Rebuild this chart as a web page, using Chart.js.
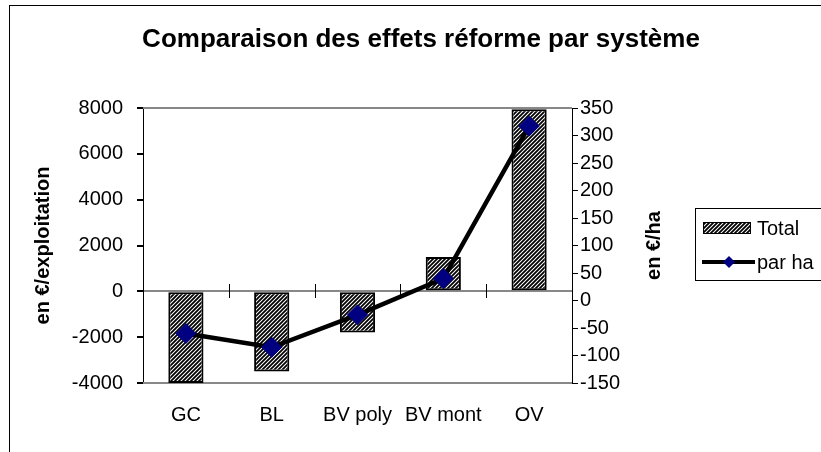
<!DOCTYPE html>
<html>
<head>
<meta charset="utf-8">
<script src="https://cdn.jsdelivr.net/npm/chart.js@4/dist/chart.umd.min.js"></script>
<style>
  html, body { margin: 0; padding: 0; background: #fff; }
  #chart { display: block; }
</style>
</head>
<body>
<canvas id="chart" width="821" height="452"></canvas>
<script>
// =======================
// Data
// =======================
const systems = ["GC", "BL", "BV poly", "BV mont", "OV"];
const totalValues = [-4000, -3500, -1800, 1500, 7950];
const perHaValues = [-60, -85, -26, 40, 317];
const leftTicks = [-4000, 8000, 2000];   // min, max, step
const rightTicks = [-150, 350, 50];      // min, max, step

const chartTitle = "Comparaison des effets réforme par système";
const leftTitle = "en €/exploitation";
const rightTitle = "en €/ha";
const seriesNames = ["Total", "par ha"];

const fontFamily = "'Liberation Sans', Arial, sans-serif";
Chart.defaults.font.family = fontFamily;
Chart.defaults.font.size = 20;
Chart.defaults.color = '#000';

// hatched fill for the bars
function makeHatch() {
    const c = document.createElement('canvas');
    c.width = 4;
    c.height = 4;
    const g = c.getContext('2d');
    g.fillStyle = '#fff';
    g.fillRect(0, 0, 4, 4);
    g.strokeStyle = '#000';
    g.lineWidth = 1.8;
    g.beginPath();
    g.moveTo(-1, 5); g.lineTo(5, -1);
    g.moveTo(-1, 1); g.lineTo(1, -1);
    g.moveTo(3, 5); g.lineTo(5, 3);
    g.stroke();
    return g.createPattern(c, 'repeat');
}
const hatch = makeHatch();

// =======================
// Extra drawing: frame, plot lines, category ticks, right title, legend
// =======================
const decorations = {
    id: 'decorations',
    beforeDraw(chart) {
        const ctx = chart.ctx;
        ctx.save();
        ctx.fillStyle = '#fff';
        ctx.fillRect(0, 0, chart.width, chart.height);
        ctx.strokeStyle = '#000';
        ctx.lineWidth = 1;
        ctx.strokeRect(9.5, 5.5, chart.width + 20, chart.height + 20);
        ctx.restore();
    },
    beforeDatasetsDraw(chart) {
        const ctx = chart.ctx;
        const area = chart.chartArea;
        const x = chart.scales.x;
        const y0 = Math.round(chart.scales.y.getPixelForValue(0));
        ctx.save();

        // grey lines at top and bottom of the plot
        ctx.strokeStyle = '#888';
        ctx.lineWidth = 2;
        ctx.beginPath();
        ctx.moveTo(area.left, Math.round(area.top));
        ctx.lineTo(area.right, Math.round(area.top));
        ctx.moveTo(area.left, Math.round(area.bottom));
        ctx.lineTo(area.right, Math.round(area.bottom));
        ctx.stroke();

        // tick marks between categories, on the zero line
        ctx.strokeStyle = '#000';
        ctx.lineWidth = 1;
        ctx.beginPath();
        for (let i = 1; i < systems.length; i++) {
            const px = Math.round((x.getPixelForValue(i - 1) + x.getPixelForValue(i)) / 2) + 0.5;
            ctx.moveTo(px, y0 - 7);
            ctx.lineTo(px, y0 + 7);
        }
        ctx.stroke();
        ctx.restore();
    },
    afterDraw(chart) {
        const ctx = chart.ctx;
        const area = chart.chartArea;
        ctx.save();

        // right axis title, reading bottom to top
        ctx.font = 'bold 20px ' + fontFamily;
        ctx.fillStyle = '#000';
        ctx.textAlign = 'center';
        ctx.textBaseline = 'middle';
        ctx.translate(area.right + 82, (area.top + area.bottom) / 2);
        ctx.rotate(-Math.PI / 2);
        ctx.fillText(rightTitle, 0, 0);
        ctx.setTransform(1, 0, 0, 1, 0, 0);

        // legend box
        const lx = area.right + 123;
        const ly = 208;
        ctx.strokeStyle = '#000';
        ctx.lineWidth = 1;
        ctx.strokeRect(lx + 0.5, ly + 0.5, 200, 72);

        ctx.fillStyle = hatch;
        ctx.fillRect(lx + 8, ly + 14, 48, 12);
        ctx.strokeRect(lx + 8.5, ly + 14.5, 47, 11);

        ctx.lineWidth = 4;
        ctx.beginPath();
        ctx.moveTo(lx + 7, ly + 54);
        ctx.lineTo(lx + 60, ly + 54);
        ctx.stroke();
        ctx.fillStyle = '#000080';
        ctx.beginPath();
        ctx.moveTo(lx + 34, ly + 48);
        ctx.lineTo(lx + 40, ly + 54);
        ctx.lineTo(lx + 34, ly + 60);
        ctx.lineTo(lx + 28, ly + 54);
        ctx.closePath();
        ctx.fill();

        ctx.font = '20px ' + fontFamily;
        ctx.fillStyle = '#000';
        ctx.textAlign = 'left';
        ctx.textBaseline = 'middle';
        ctx.fillText(seriesNames[0], lx + 62, ly + 21);
        ctx.fillText(seriesNames[1], lx + 62, ly + 55);
        ctx.restore();
    }
};

// =======================
// The chart
// =======================
const chartCanvas = document.querySelector('#chart');
const chartData = {
    labels: systems,
    datasets: [{
        type: 'line',
        label: seriesNames[1],
        data: perHaValues,
        yAxisID: 'y1',
        order: 0,
        borderColor: '#000',
        borderWidth: 4.5,
        tension: 0,
        pointStyle: 'rectRot',
        pointRadius: 10,
        pointBorderWidth: 1,
        pointBackgroundColor: '#000080',
        pointBorderColor: '#000080'
    }, {
        type: 'bar',
        label: seriesNames[0],
        data: totalValues,
        yAxisID: 'y',
        order: 1,
        backgroundColor: hatch,
        borderColor: '#000',
        borderWidth: 2,
        borderSkipped: false,
        categoryPercentage: 1,
        barPercentage: 0.41
    }]
};
const chartOptions = {
    responsive: false,
    animation: false,
    layout: {
        padding: { left: 21, right: 0, top: 0, bottom: 0 }
    },
    scales: {
        x: {
            position: 'bottom',
            afterFit: s => { s.height = 69; },
            grid: { display: false, drawTicks: false },
            border: { display: false },
            ticks: { padding: 20 }
        },
        y: {
            position: 'left',
            min: leftTicks[0],
            max: leftTicks[1],
            afterFit: s => { s.width = 122; },
            ticks: {
                stepSize: leftTicks[2],
                padding: 14,
                callback: v => String(v)
            },
            grid: {
                color: c => c.tick.value === 0 ? '#888' : 'rgba(0,0,0,0)',
                lineWidth: 2,
                tickColor: '#000',
                tickLength: 6
            },
            border: { display: true, color: '#000', width: 1 },
            title: {
                display: true,
                text: leftTitle,
                font: { size: 20, weight: 'bold' },
                padding: { top: 10, bottom: 0 }
            }
        },
        y1: {
            position: 'right',
            min: rightTicks[0],
            max: rightTicks[1],
            afterFit: s => { s.width = 249; },
            ticks: {
                stepSize: rightTicks[2],
                padding: 2,
                callback: v => String(v)
            },
            grid: {
                drawOnChartArea: false,
                tickColor: '#000',
                tickLength: 6
            },
            border: { display: true, color: '#000', width: 1 }
        }
    },
    plugins: {
        legend: { display: false },
        tooltip: { enabled: false },
        title: {
            display: true,
            text: chartTitle,
            font: { size: 26, weight: 'bold' },
            color: '#000',
            padding: { top: 24.4, bottom: 52.4 }
        }
    }
};
let mainChart = new Chart(chartCanvas, {
    data: chartData,
    options: chartOptions,
    plugins: [decorations]
});
</script>
</body>
</html>
